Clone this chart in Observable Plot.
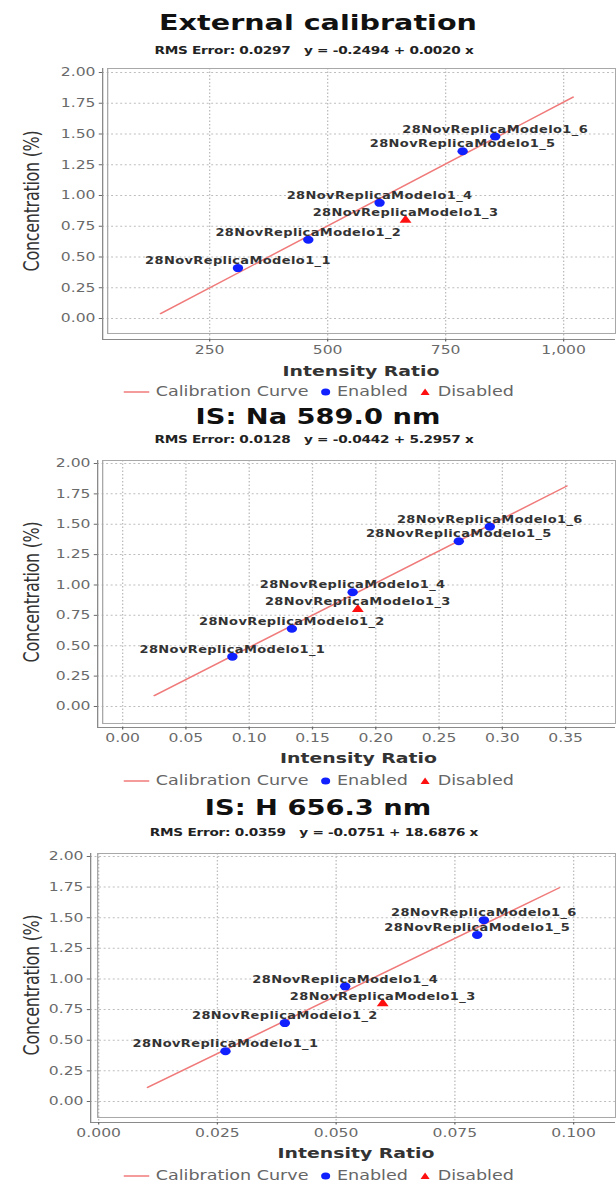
<!DOCTYPE html>
<html>
<head>
<meta charset="utf-8">
<script src="https://cdn.jsdelivr.net/npm/d3@7"></script>
<script src="https://cdn.jsdelivr.net/npm/@observablehq/plot@0.6"></script>
<style>
  html, body { margin: 0; padding: 0; background: #fff; }
  #stage { position: relative; width: 616px; height: 1184px; overflow: hidden; background: #fff; }
  #inner { position: absolute; left: 0; top: 0; height: 1184px; transform-origin: 0 0; font-family: "DejaVu Sans", sans-serif; }
  .abs { position: absolute; white-space: pre; }
  .title { font-weight: bold; color: #111; text-align: center; line-height: 1; }
  .sub { font-weight: bold; color: #222; text-align: center; line-height: 1; letter-spacing: -0.2px; }
  .xt { font-weight: bold; color: #333; text-align: center; line-height: 1; }
  .yt { color: #333; text-align: center; transform: rotate(-90deg); letter-spacing: -0.3px; }
  .leg { color: #666; text-align: center; line-height: 1; }
  .leg svg { vertical-align: middle; }
  .lbls text { letter-spacing: 0.3px; }
</style>
</head>
<body>
<div id="stage"><div id="inner"></div></div>
<script>
// ---------- data ----------
const sampleNames = ["28NovReplicaModelo1_1", "28NovReplicaModelo1_2", "28NovReplicaModelo1_3",
                     "28NovReplicaModelo1_4", "28NovReplicaModelo1_5", "28NovReplicaModelo1_6"];
const concentration = [0.41, 0.64, 0.80, 0.94, 1.36, 1.48];
const sampleStatus = ["Enabled", "Enabled", "Disabled", "Enabled", "Enabled", "Enabled"];

const extRatio = [310, 459, 665, 610, 786, 855];
const naRatio  = [0.0867, 0.1337, 0.1858, 0.1817, 0.2656, 0.2901];
const hRatio   = [0.0267, 0.0392, 0.0598, 0.0519, 0.0797, 0.0811];

const extCurveX = [146, 1020];    const extCurveY = [0.04, 1.80];
const naCurveX  = [0.025, 0.351]; const naCurveY  = [0.09, 1.815];
const hCurveX   = [0.0103, 0.097]; const hCurveY  = [0.115, 1.745];

const titles = ["External calibration", "IS: Na 589.0 nm", "IS: H 656.3 nm"];
const subtitles = ["RMS Error: 0.0297   y = -0.2494 + 0.0020 x",
                   "RMS Error: 0.0128   y = -0.0442 + 5.2957 x",
                   "RMS Error: 0.0359   y = -0.0751 + 18.6876 x"];
const extTicks = [250, 500, 750, 1000];
const naTicks  = [0, 0.05, 0.10, 0.15, 0.20, 0.25, 0.30, 0.35];
const hTicks   = [0, 0.025, 0.050, 0.075, 0.100];
const yTicks   = [0, 0.25, 0.5, 0.75, 1.0, 1.25, 1.5, 1.75, 2.0];
const xTitle = "Intensity Ratio";
const yTitle = "Concentration (%)";
const legendLabels = ["Calibration Curve", "Enabled", "Disabled"];

// ---------- layout ----------
const S = 1.3;               // horizontal stretch of the original picture
const IW = 616 / S;
const inner = document.getElementById("inner");
inner.style.width = IW + "px";
inner.style.transform = `scaleX(${S})`;

const panels = [
  {ratio: extRatio, cx: extCurveX, cy: extCurveY, ticks: extTicks, fmt: d3.format(","),
   axisX: 102, frameLeft: 107, right: 615, frameTop: 68, frameBottom: 333, axisY: 339,
   yPx: [318, 72], xCal: [[250, 209], [1000, 563]],
   titleY: 23, subY: 50, xTitleY: 371, legY: 393, titleFs: 22},
  {ratio: naRatio, cx: naCurveX, cy: naCurveY, ticks: naTicks, fmt: d3.format(".2f"),
   axisX: 97, frameLeft: 102, right: 615, frameTop: 460, frameBottom: 723, axisY: 727,
   yPx: [706, 463], xCal: [[0, 122], [0.35, 565]],
   titleY: 417, subY: 439, xTitleY: 758, legY: 782, titleFs: 21},
  {ratio: hRatio, cx: hCurveX, cy: hCurveY, ticks: hTicks, fmt: d3.format(".3f"),
   axisX: 90, frameLeft: 97, right: 615, frameTop: 853, frameBottom: 1117, axisY: 1122,
   yPx: [1101, 856], xCal: [[0, 98], [0.1, 573]],
   titleY: 808, subY: 832, xTitleY: 1153, legY: 1177, titleFs: 21}
];

function addDiv(cls, text, x, yc, fs, w) {
  const d = document.createElement("div");
  d.className = "abs " + cls;
  d.textContent = text;
  d.style.fontSize = fs + "px";
  d.style.width = w + "px";
  d.style.left = (x / S - w / 2) + "px";
  d.style.top = (yc - 0.48 * fs) + "px";
  inner.appendChild(d);
  return d;
}

panels.forEach((p, i) => {
  // scale domains derived from the picture's calibration of pixel positions
  const [[v1, p1], [v2, p2]] = p.xCal;
  const xAt = px => v1 + (px - p1) * (v2 - v1) / (p2 - p1);
  const yAt = px => (p.yPx[0] - px) * 2 / (p.yPx[0] - p.yPx[1]);
  const xDomain = [xAt(p.axisX), xAt(p.right)];
  const yDomain = [yAt(p.axisY), yAt(p.frameTop)];

  const pts = sampleNames.map((n, k) => ({name: n, x: p.ratio[k], y: concentration[k], status: sampleStatus[k]}));
  const curve = p.cx.map((x, k) => ({x, y: p.cy[k]}));

  const mt = 6, mb = 24;
  const top = p.frameTop - mt;
  const height = p.axisY + mb - top;

  const chart = Plot.plot({
    width: IW,
    height,
    marginTop: mt,
    marginBottom: mb,
    marginLeft: p.axisX / S,
    marginRight: (616 - p.right) / S,
    style: {color: "#6a6a6a", fontFamily: "DejaVu Sans, sans-serif", background: "transparent", overflow: "visible"},
    x: {domain: xDomain},
    y: {domain: yDomain},
    marks: [
      Plot.gridX(p.ticks, {stroke: "#bdbdbd", strokeOpacity: 1, strokeDasharray: "1.5,2"}),
      Plot.gridY(yTicks, {stroke: "#bdbdbd", strokeOpacity: 1, strokeDasharray: "1.5,2"}),
      Plot.frame({stroke: "#a8a8a8", insetLeft: (p.frameLeft - p.axisX) / S, insetBottom: p.axisY - p.frameBottom}),
      Plot.ruleX([xDomain[0]], {stroke: "#8a8a8a"}),
      Plot.ruleY([yDomain[0]], {stroke: "#8a8a8a"}),
      Plot.axisX(p.ticks, {tickSize: 2.5, tickPadding: 3, fontSize: 12, tickFormat: p.fmt, label: null}),
      Plot.axisY(yTicks, {tickSize: 2.5, tickPadding: 3, fontSize: 12, tickFormat: d3.format(".2f"), label: null}),
      Plot.line(curve, {x: "x", y: "y", stroke: "#f07a7a", strokeWidth: 1.4}),
      Plot.dot(pts.filter(d => d.status === "Enabled"), {x: "x", y: "y", r: 4, fill: "#1020ff", stroke: "none"}),
      Plot.dot(pts.filter(d => d.status === "Disabled"), {x: "x", y: "y", r: 3.4, symbol: "triangle", fill: "#ff1010", stroke: "none"}),
      Plot.text(pts, {x: "x", y: "y", text: "name", dy: -7, fontSize: 10, fontWeight: "bold", fill: "#333", className: "lbls"})
    ]
  });
  chart.style.position = "absolute";
  chart.style.left = "0px";
  chart.style.top = top + "px";
  inner.appendChild(chart);

  addDiv("title", titles[i], 318, p.titleY, p.titleFs, 420);
  addDiv("sub", subtitles[i], 314, p.subY, 10.5, 420);
  addDiv("xt", xTitle, (p.frameLeft + p.right) / 2, p.xTitleY, 14.5, 300);

  const yc = (p.frameTop + p.frameBottom) / 2;
  const yt = document.createElement("div");
  yt.className = "abs yt";
  yt.textContent = yTitle;
  const w = 220, h = 20;
  yt.style.fontSize = "16px";
  yt.style.width = w + "px";
  yt.style.height = h + "px";
  yt.style.lineHeight = h + "px";
  yt.style.left = (33 / S - w / 2) + "px";
  yt.style.top = (yc - h / 2) + "px";
  inner.appendChild(yt);

  const leg = document.createElement("div");
  leg.className = "abs leg";
  leg.style.fontSize = "13.5px";
  leg.style.width = "400px";
  leg.style.left = (319 / S - 200) + "px";
  leg.style.top = (p.legY - 8) + "px";
  leg.innerHTML =
    `<svg width="20" height="10"><line x1="0" x2="20" y1="5" y2="5" stroke="#f07a7a" stroke-width="1.4"/></svg> ${legendLabels[0]}  ` +
    `<svg width="9" height="10"><circle cx="4.5" cy="5" r="3.5" fill="#1020ff"/></svg> ${legendLabels[1]}  ` +
    `<svg width="10" height="10"><path d="M5,1.5 L8.5,8 L1.5,8 Z" fill="#ff1010"/></svg> ${legendLabels[2]}`;
  inner.appendChild(leg);
});
</script>
</body>
</html>
